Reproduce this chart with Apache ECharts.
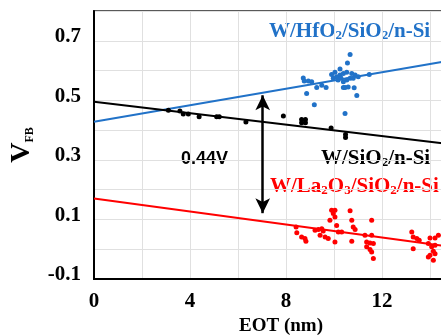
<!DOCTYPE html>
<html>
<head>
<meta charset="utf-8">
<script src="https://cdn.jsdelivr.net/npm/echarts@6/dist/echarts.min.js"></script>
<style>
  html, body { margin: 0; padding: 0; background: #fff; overflow: hidden; }
  #chart { width: 520px; height: 336px; }
</style>
</head>
<body>
<div id="chart"></div>
<script>
// axis tick labels (gridlines every 2 nm / 0.1 V, labels on every other one)
const xLabelTicks = [0, 4, 8, 12, 16];
const yLabelTicks = [-0.1, 0.1, 0.3, 0.5, 0.7];

// W/HfO2/SiO2/n-Si  [EOT nm, VFB V]
const hfoPoints = [
  [10.67, 0.654], [10.56, 0.625], [10.25, 0.605], [8.72, 0.575], [8.76, 0.565],
  [8.93, 0.565], [9.07, 0.562], [9.28, 0.543], [9.49, 0.551], [9.67, 0.543],
  [8.86, 0.523], [9.18, 0.485], [9.90, 0.587], [10.04, 0.594], [9.97, 0.574],
  [10.11, 0.579], [10.25, 0.585], [10.39, 0.590], [10.53, 0.594], [10.74, 0.590],
  [10.88, 0.585], [11.01, 0.579], [10.39, 0.562], [10.53, 0.568], [10.67, 0.574],
  [10.80, 0.574], [10.46, 0.543], [10.59, 0.545], [10.39, 0.543], [10.84, 0.542],
  [10.95, 0.516], [11.47, 0.587], [10.46, 0.456], [10.17, 0.568], [10.29, 0.575]
];
// W/SiO2/n-Si
const sioPoints = [
  [3.10, 0.467], [3.58, 0.464], [3.72, 0.454], [3.93, 0.454], [4.38, 0.445],
  [5.11, 0.445], [5.22, 0.445], [6.33, 0.427], [7.89, 0.447], [8.65, 0.436],
  [8.81, 0.436], [8.65, 0.425], [8.81, 0.425], [9.88, 0.407], [10.48, 0.385],
  [10.48, 0.375]
];
// W/La2O3/SiO2/n-Si
const laoPoints = [
  [8.42, 0.075], [8.45, 0.055], [8.65, 0.041], [8.79, 0.036], [8.83, 0.027],
  [9.21, 0.064], [9.35, 0.066], [9.49, 0.069], [9.55, 0.061], [9.42, 0.047],
  [9.63, 0.041], [9.76, 0.036], [9.90, 0.131], [10.04, 0.131], [9.97, 0.120],
  [10.04, 0.108], [9.83, 0.097], [10.11, 0.080], [10.18, 0.058], [10.04, 0.024],
  [10.32, 0.058], [10.67, 0.129], [10.74, 0.097], [10.80, 0.075], [10.88, 0.066],
  [10.74, 0.027], [11.29, 0.047], [11.57, 0.047], [11.57, 0.097], [11.36, 0.024],
  [11.50, 0.021], [11.64, 0.019], [11.36, 0.008], [11.50, -0.001], [11.57, -0.009],
  [11.64, -0.031], [13.24, 0.058], [13.30, 0.041], [13.45, 0.036], [13.55, 0.030],
  [13.30, 0.002], [13.93, 0.019], [14.07, 0.008], [14.14, -0.007], [14.00, -0.020],
  [14.21, 0.013], [14.21, -0.015], [13.93, -0.026], [14.14, -0.037], [14.00, 0.038],
  [14.21, 0.038], [14.35, 0.047]
];

// linear fit lines, end points
const hfoFit = [[0, 0.428], [16, 0.650]];
const sioFit = [[0, 0.495], [16, 0.342]];
const laoFit = [[0, 0.170], [16, -0.004]];

// double arrow marking the 0.44V shift
const gapArrow = [[7.03, 0.517], [7.03, 0.121]];

const BLUE = '#2172c8';
const RED = '#ff0000';
const SERIF = '"Liberation Serif", "Times New Roman", serif';

const isTick = (list, v) => list.some((t) => Math.abs(t - v) < 1e-6);

// graphic text uses zrender styles: fill, not color
const richStyle = (fill) => ({
  a: { fontFamily: SERIF, fontWeight: 'bold', fontSize: 21, fill },
  s: { fontFamily: SERIF, fontWeight: 'bold', fontSize: 13, fill, verticalAlign: 'bottom' },
});

const chart = echarts.init(document.getElementById('chart'));

const labelFont = {
  fontFamily: SERIF,
  fontWeight: 'bold',
  fontSize: 21,
  color: '#000',
};

const option = {
  animation: false,
  backgroundColor: '#fff',
  grid: {
    left: 94,
    top: 11,
    right: 42,
    bottom: 57,
    outerBoundsMode: 'none',
    show: true,
    borderColor: '#595959',
    borderWidth: 2,
  },
  xAxis: {
    type: 'value',
    min: 0,
    max: 16,
    interval: 2,
    name: 'EOT (nm)',
    nameLocation: 'middle',
    nameGap: 38,
    nameTextStyle: {
      fontFamily: SERIF,
      fontWeight: 'bold',
      fontSize: 19,
      color: '#000',
      padding: [0, 10, 0, 0],
    },
    axisLine: { show: true, onZero: false, lineStyle: { color: '#000', width: 2 } },
    axisTick: { show: false },
    axisLabel: Object.assign({
      margin: 12,
      formatter: (v) => (isTick(xLabelTicks, v) ? String(v) : ''),
    }, labelFont),
    splitLine: { show: true, lineStyle: { color: '#e0e0e0', width: 1 } },
  },
  yAxis: {
    type: 'value',
    min: -0.1,
    max: 0.8,
    interval: 0.1,
    name: '{v|V}{s|FB}',
    nameLocation: 'middle',
    nameRotate: 90,
    nameGap: 58,
    nameTextStyle: {
      rich: {
        v: { fontFamily: SERIF, fontWeight: 'bold', fontSize: 28, color: '#000' },
        s: { fontFamily: SERIF, fontWeight: 'bold', fontSize: 12, color: '#000', verticalAlign: 'bottom' },
      },
    },
    axisLine: { show: true, onZero: false, lineStyle: { color: '#000', width: 2 } },
    axisTick: { show: false },
    axisLabel: {
      margin: 13,
      formatter: (v) => (isTick(yLabelTicks, v) ? '{t|' + v.toFixed(1) + '}' : ''),
      rich: {
        t: Object.assign({ padding: [0, 0, 8, 0] }, labelFont),
      },
    },
    splitLine: { show: true, lineStyle: { color: '#e0e0e0', width: 1 } },
  },
  graphic: [
    {
      type: 'text', x: 269, y: 32,
      style: {
        text: '{a|W/HfO}{s|2}{a|/SiO}{s|2}{a|/n-Si}',
        rich: richStyle(BLUE), verticalAlign: 'middle',
      },
    },
    {
      type: 'text', x: 321, y: 159,
      style: {
        text: '{a|W/SiO}{s|2}{a|/n-Si}',
        rich: richStyle('#000'), verticalAlign: 'middle',
      },
    },
    {
      type: 'text', x: 270, y: 187,
      style: {
        text: '{a|W/La}{s|2}{a|O}{s|3}{a|/SiO}{s|2}{a|/n-Si}',
        rich: richStyle(RED), verticalAlign: 'middle',
      },
    },
    {
      type: 'text', x: 181, y: 159,
      style: {
        text: '0.44V',
        fill: '#000',
        font: 'bold 18px "Liberation Sans", Arial, sans-serif',
        verticalAlign: 'middle',
      },
    },
  ],
  series: [
    {
      name: 'HfO2 fit', type: 'line', data: hfoFit, symbol: 'none',
      lineStyle: { color: BLUE, width: 2 }, z: 3,
    },
    {
      name: 'SiO2 fit', type: 'line', data: sioFit, symbol: 'none',
      lineStyle: { color: '#000', width: 2 }, z: 3,
      markLine: {
        silent: true,
        symbol: ['arrow', 'arrow'],
        symbolSize: [11, 15],
        label: { show: false },
        lineStyle: { color: '#000', width: 2.5, type: 'solid' },
        data: [[{ coord: gapArrow[0] }, { coord: gapArrow[1] }]],
      },
    },
    {
      name: 'La2O3 fit', type: 'line', data: laoFit, symbol: 'none',
      lineStyle: { color: RED, width: 2 }, z: 3,
    },
    {
      name: 'W/HfO2/SiO2/n-Si', type: 'scatter', data: hfoPoints,
      symbolSize: 5, itemStyle: { color: BLUE, opacity: 1 }, z: 4,
    },
    {
      name: 'W/SiO2/n-Si', type: 'scatter', data: sioPoints,
      symbolSize: 5, itemStyle: { color: '#000', opacity: 1 }, z: 4,
    },
    {
      name: 'W/La2O3/SiO2/n-Si', type: 'scatter', data: laoPoints,
      symbolSize: 5, itemStyle: { color: RED, opacity: 1 }, z: 4,
    },
  ],
};

chart.setOption(option);
</script>
</body>
</html>
